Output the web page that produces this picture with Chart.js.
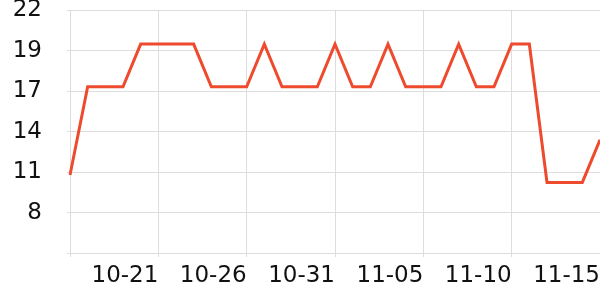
<!DOCTYPE html>
<html>
<head>
<meta charset="utf-8">
<script src="https://cdn.jsdelivr.net/npm/chart.js@4"></script>
<style>
html,body{margin:0;padding:0;background:#fff;}
#wrap{width:600px;height:300px;position:relative;}
</style>
</head>
<body>
<div id="wrap"><canvas id="c" width="600" height="300"></canvas></div>
<script>
const categories = ['10-16','10-17','10-18','10-19','10-20','10-21','10-22','10-23','10-24','10-25','10-26','10-27','10-28','10-29','10-30','10-31','11-01','11-02','11-03','11-04','11-05','11-06','11-07','11-08','11-09','11-10','11-11','11-12','11-13','11-14','11-15'];
const seriesValues = [10.8,16.8,16.8,16.8,19.7,19.7,19.7,19.7,16.8,16.8,16.8,19.7,16.8,16.8,16.8,19.7,16.8,16.8,19.7,16.8,16.8,16.8,19.7,16.8,16.8,19.7,19.7,10.3,10.3,10.3,13.2];
const yTickLabels = ['', '8', '11', '14', '17', '19', '22'];
const xLabelEvery = 5;

const gridColor = 'rgb(221,221,221)';
new Chart(document.getElementById('c'), {
  type: 'line',
  data: {
    labels: categories,
    datasets: [{
      data: seriesValues,
      borderColor: 'rgb(238,74,45)',
      borderWidth: 3,
      pointRadius: 0,
      tension: 0,
      fill: false
    }]
  },
  options: {
    responsive: false,
    animation: false,
    events: [],
    layout: { padding: 0 },
    plugins: { legend: { display: false }, tooltip: { enabled: false } },
    scales: {
      x: {
        afterBuildTicks: (s) => { s.ticks = s.ticks.filter(t => t.value % xLabelEvery === 0); },
        afterFit: (s) => { s.height = 47; },
        ticks: {
          autoSkip: false,
          maxRotation: 0,
          align: 'end',
          padding: 0,
          color: '#111',
          font: { family: 'DejaVu Sans', size: 23 },
          callback: function(v, i) { return v === 0 ? '' : categories[v]; }
        },
        grid: { color: gridColor, tickLength: 9, tickBorderDash: [3, 100] },
        border: { color: gridColor }
      },
      y: {
        min: 5.5,
        max: 22,
        afterFit: (s) => { s.width = 70; },
        ticks: {
          stepSize: 2.75,
          padding: 2,
          color: '#111',
          font: { family: 'DejaVu Sans', size: 23, lineHeight: 0.72 },
          callback: function(v, i) { return yTickLabels[i]; }
        },
        grid: { color: gridColor, tickLength: 26, tickBorderDash: [0, 23, 3, 100] },
        border: { color: gridColor }
      }
    }
  }
});
</script>
</body>
</html>
